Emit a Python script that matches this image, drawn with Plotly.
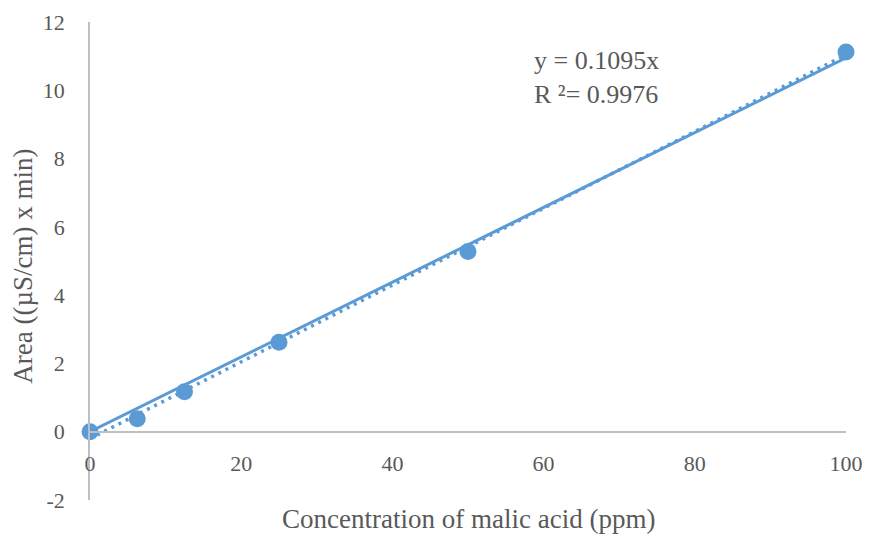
import numpy as np
import plotly.graph_objects as go

conc = [0, 6.25, 12.5, 25, 50, 100]
area = [0, 0.38, 1.17, 2.62, 5.28, 11.12]
x_ticks = [0, 20, 40, 60, 80, 100]
y_ticks = [-2, 0, 2, 4, 6, 8, 10, 12]
y_tick_text = ["-2", "0", "2", "4", "6", "8", "10", "12"]
eq_text = "y = 0.1095x<br>R ²= 0.9976"
x_title = "Concentration of malic acid (ppm)"
y_title = "Area ((µS/cm) x min)"

xa = np.array(conc, dtype=float)
ya = np.array(area, dtype=float)
# trendline through origin (solid) and linear trendline with intercept (dotted)
slope0 = 0.1095
slope1, icpt1 = np.polyfit(xa, ya, 1)
xl = np.array([0, 100], dtype=float)

blue = "#5B9BD5"
gray = "#595959"
axis_col = "#BFBFBF"
font = "Liberation Serif"

fig = go.Figure()
fig.add_trace(go.Scatter(x=xl, y=slope1 * xl + icpt1, mode="lines",
                         line=dict(color=blue, width=3.5, dash="3px,5px"),
                         hoverinfo="skip", cliponaxis=False))
fig.add_trace(go.Scatter(x=xl, y=slope0 * xl, mode="lines",
                         line=dict(color=blue, width=3),
                         hoverinfo="skip", cliponaxis=False))
fig.add_trace(go.Scatter(x=conc, y=area, mode="markers",
                         marker=dict(color=blue, size=17),
                         cliponaxis=False))

fig.update_layout(
    width=870, height=537,
    margin=dict(l=90, r=24, t=22, b=37),
    paper_bgcolor="white", plot_bgcolor="white",
    showlegend=False,
    font=dict(family=font, color=gray, size=22),
    xaxis=dict(range=[0, 100], tickvals=x_ticks, showgrid=False, zeroline=False,
               showline=True, linecolor=axis_col, linewidth=1.5,
               anchor="free", position=2 / 14, automargin=False,
               ticks="", ticklabelstandoff=12,
               tickfont=dict(family=font, color=gray, size=22)),
    yaxis=dict(range=[-2, 12], tickvals=y_ticks, ticktext=y_tick_text,
               showgrid=False, zeroline=False, automargin=False,
               showline=True, linecolor=axis_col, linewidth=1.5,
               ticks="", ticklabelstandoff=19,
               tickfont=dict(family=font, color=gray, size=22)),
    annotations=[
        dict(text=x_title, xref="paper", yref="paper",
             x=0.501, y=-0.040, xanchor="center", yanchor="middle", showarrow=False,
             font=dict(family=font, color=gray, size=27)),
        dict(text=y_title, xref="paper", yref="paper", textangle=-90,
             x=-0.0886, y=0.488, xanchor="center", yanchor="middle", showarrow=False,
             font=dict(family=font, color=gray, size=27)),
        dict(text=eq_text, xref="paper", yref="paper", x=0.584, y=0.955,
             xanchor="left", yanchor="top", align="left", showarrow=False,
             font=dict(family=font, color=gray, size=26)),
    ],
)

fig.write_html("out.html")
